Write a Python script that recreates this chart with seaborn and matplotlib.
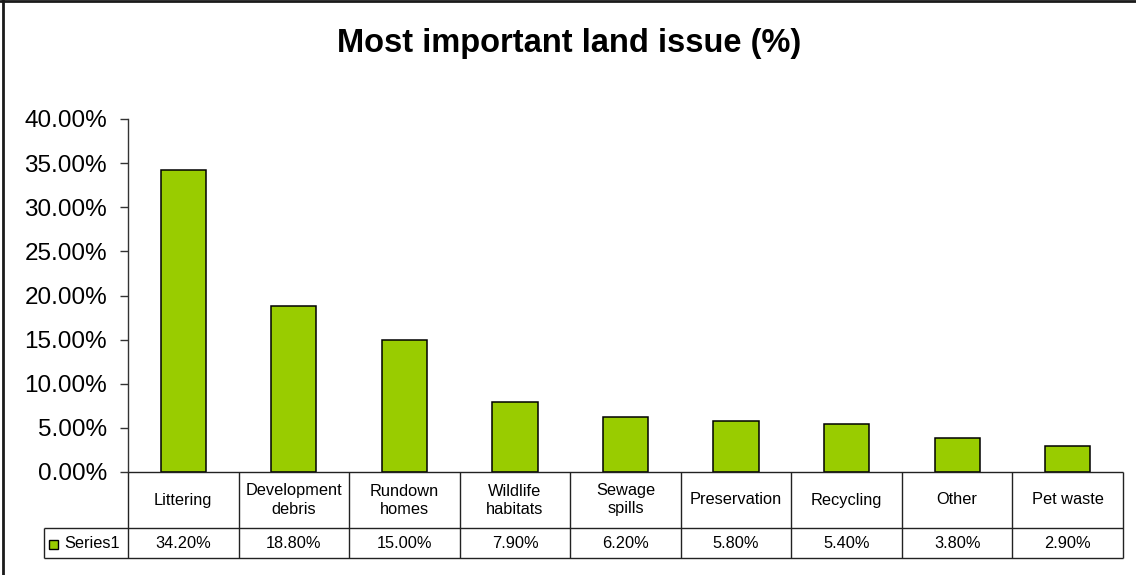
import matplotlib
matplotlib.use("Agg")
import matplotlib.pyplot as plt
from matplotlib.lines import Line2D
from matplotlib.patches import Rectangle
from matplotlib.ticker import FuncFormatter, MultipleLocator
import seaborn as sns
import pandas as pd

# Survey results: share of respondents naming each issue as most important
categories = ["Littering", "Development\ndebris", "Rundown\nhomes", "Wildlife\nhabitats",
              "Sewage\nspills", "Preservation", "Recycling", "Other", "Pet waste"]
values = [34.2, 18.8, 15.0, 7.9, 6.2, 5.8, 5.4, 3.8, 2.9]
series_name = "Series1"
title = "Most important land issue (%)"

sns.set_style("white")
plt.rcParams["font.family"] = ["Liberation Sans", "DejaVu Sans"]
plt.rcParams["text.color"] = "black"
plt.rcParams["ytick.color"] = "black"
plt.rcParams["ytick.labelcolor"] = "black"

BAR = "#99CC00"
W, H = 1136, 575
fig = plt.figure(figsize=(W / 100, H / 100), dpi=100)

# plot area in pixel terms
left_px, right_px, top_px, bottom_px = 128, 1123, 119, 472
ax = fig.add_axes([left_px / W, 1 - bottom_px / H,
                   (right_px - left_px) / W, (bottom_px - top_px) / H])

df = pd.DataFrame({"issue": categories, "share": values})
sns.barplot(data=df, x="issue", y="share", color=BAR, edgecolor="black",
            linewidth=1.1, width=0.41, saturation=1, ax=ax)

ax.set_xlim(-0.5, len(categories) - 0.5)
ax.set_ylim(0, 40)
ax.yaxis.set_major_locator(MultipleLocator(5))
ax.yaxis.set_major_formatter(FuncFormatter(lambda v, _: f"{v:.2f}%"))
ax.tick_params(axis="y", direction="out", length=6, width=1, color="#333333",
               labelcolor="black", labelsize=17.5, pad=9, left=True)
ax.set_xticks([])
ax.set_xlabel("")
ax.set_ylabel("")
for s in ["top", "right", "bottom"]:
    ax.spines[s].set_visible(False)
ax.spines["left"].set_color("#333333")
ax.spines["left"].set_linewidth(1)

# data table beneath the bars
axh = bottom_px - top_px
y_row1 = -(528 - bottom_px) / axh
y_row2 = -(558 - bottom_px) / axh
x_legend = -0.5 - (left_px - 44) / ((right_px - left_px) / len(categories))
trans = ax.get_xaxis_transform()
lc = "#222222"
lw = 1.0
n = len(categories)

def seg(x0, x1, y0, y1):
    ax.add_line(Line2D([x0, x1], [y0, y1], transform=trans, color=lc, lw=lw,
                       clip_on=False, solid_capstyle="butt"))

seg(-0.5, n - 0.5, 0, 0)
seg(x_legend, n - 0.5, y_row1, y_row1)
seg(x_legend, n - 0.5, y_row2, y_row2)
for k in range(n + 1):
    seg(k - 0.5, k - 0.5, 0, y_row2)
seg(x_legend, x_legend, y_row1, y_row2)

for i, (c, v) in enumerate(zip(categories, values)):
    ax.text(i, y_row1 / 2, c, transform=trans, ha="center", va="center",
            fontsize=11.8, linespacing=1.25, clip_on=False, color="black")
    ax.text(i, (y_row1 + y_row2) / 2, f"{v:.2f}%", transform=trans,
            ha="center", va="center", fontsize=11.8, clip_on=False, color="black")

# legend key inside the table
ym = 1 - 544 / H
fig.add_artist(Rectangle((49 / W, ym - 4.5 / H), 9 / W, 9 / H, transform=fig.transFigure,
                         facecolor=BAR, edgecolor="black", lw=1))
fig.text(64 / W, ym, series_name, ha="left", va="center", fontsize=11.8, color="black")

fig.text(569 / W, 1 - 52 / H, title, ha="center", va="baseline",
         fontsize=23.5, fontweight="bold", color="black")

# outer frame
fig.add_artist(Line2D([0, 1], [1 - 1 / H, 1 - 1 / H], transform=fig.transFigure,
                      color="#1a1a1a", lw=2))
fig.add_artist(Line2D([3 / W, 3 / W], [0, 1], transform=fig.transFigure,
                      color="#1a1a1a", lw=2))

fig.savefig("out.png", dpi=100, facecolor="white")
